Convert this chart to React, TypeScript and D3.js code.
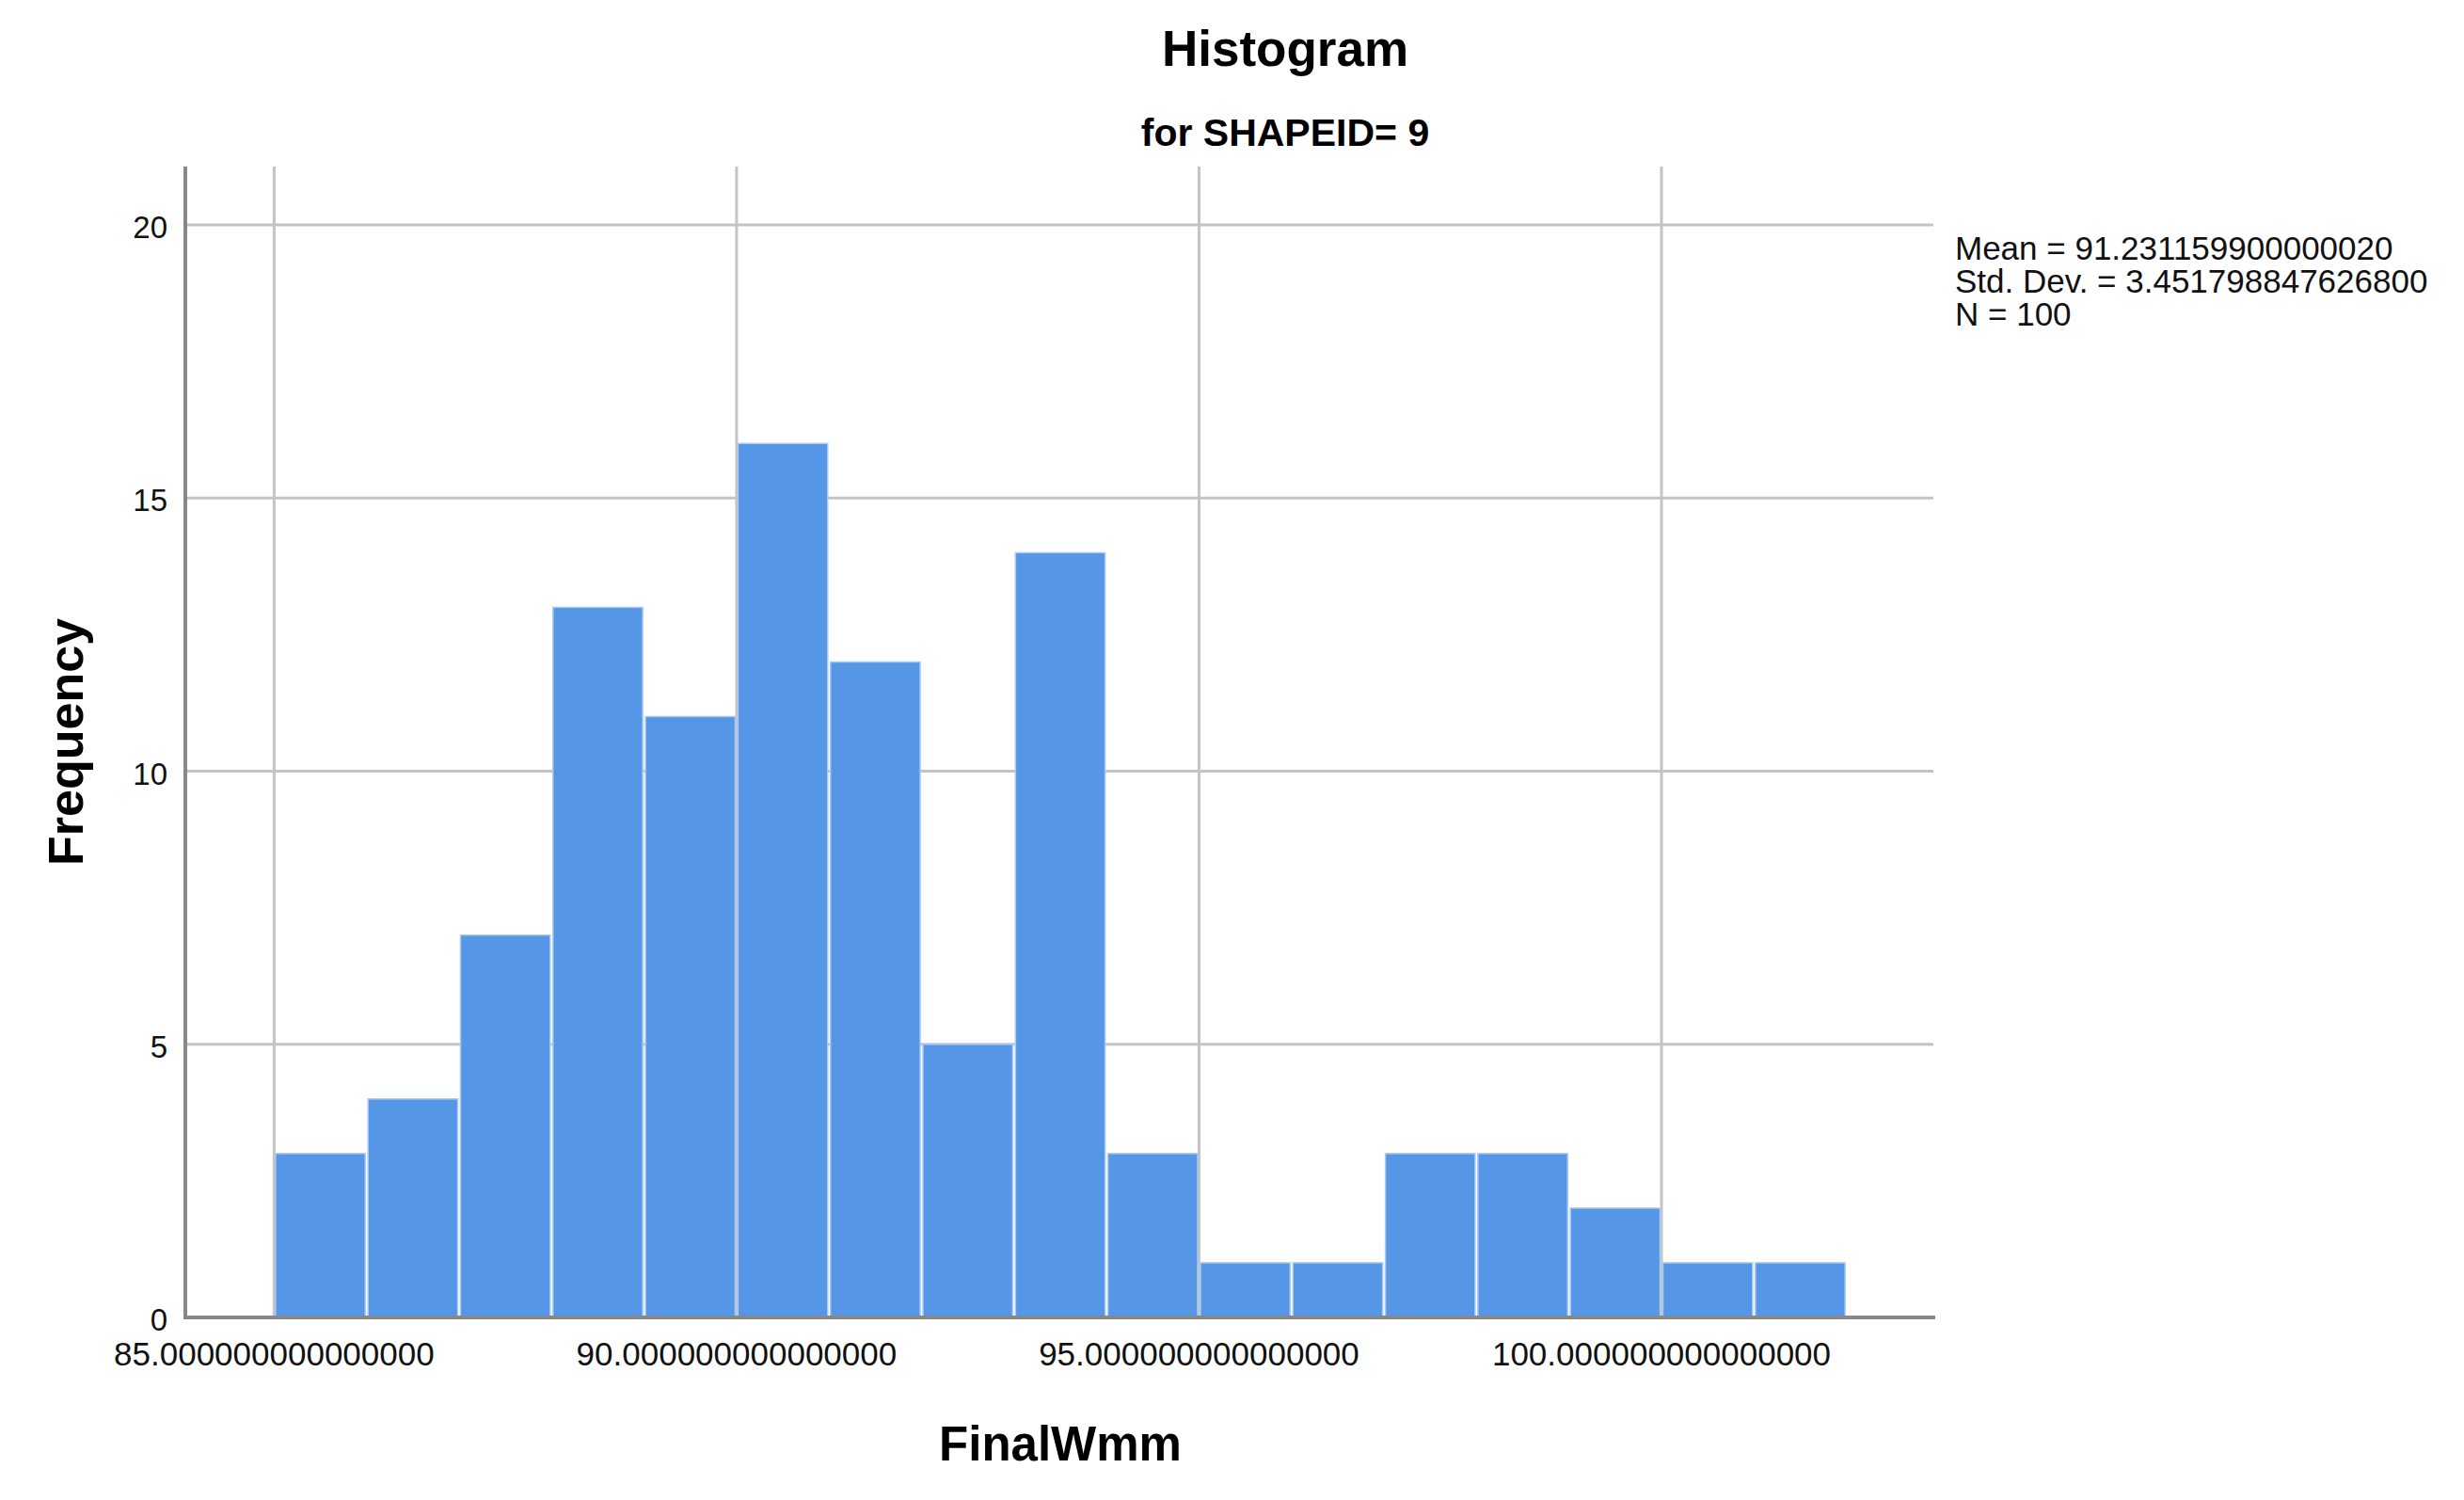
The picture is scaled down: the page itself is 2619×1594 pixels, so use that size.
import React, { useEffect, useRef } from "react";
import * as d3 from "d3";

// histogram of FinalWmm, SHAPEID = 9
const binEdges = [85, 86, 87, 88, 89, 90, 91, 92, 93, 94, 95, 96, 97, 98, 99, 100, 101, 102];
const counts = [3, 4, 7, 13, 11, 16, 12, 5, 14, 3, 1, 1, 3, 3, 2, 1, 1];
const xTicks = [85, 90, 95, 100];
const xTickLabels = ["85.000000000000000", "90.000000000000000", "95.000000000000000", "100.000000000000000"];
const yTicks = [0, 5, 10, 15, 20];
const statLines = ["Mean = 91.231159900000020", "Std. Dev. = 3.451798847626800", "N = 100"];

const W = 2619;
const H = 1594;
const FONT = "'Liberation Sans', Arial, sans-serif";

const App = () => {
  const svgRef = useRef<SVGSVGElement | null>(null);

  useEffect(() => {
    const svg = d3.select(svgRef.current);
    svg.selectAll("*").remove();

    const left = 197, right = 2057, top = 177, bottom = 1400;

    const x = d3.scaleLinear().domain([84.04, 102.96]).range([left, right]);
    const y = d3.scaleLinear().domain([0, 21.07]).range([bottom, top]);

    svg.append("rect").attr("width", W).attr("height", H).attr("fill", "#fff");

    // grid
    svg.append("g")
      .selectAll("line")
      .data(yTicks.filter(d => d > 0))
      .enter()
      .append("line")
      .attr("x1", left).attr("x2", right - 2)
      .attr("y1", d => y(d)).attr("y2", d => y(d))
      .attr("stroke", "#c4c4c4")
      .attr("stroke-width", 3);

    svg.append("g")
      .selectAll("line")
      .data(xTicks)
      .enter()
      .append("line")
      .attr("x1", d => x(d)).attr("x2", d => x(d))
      .attr("y1", top).attr("y2", bottom)
      .attr("stroke", "#c4c4c4")
      .attr("stroke-width", 3);

    // bars
    const bins = counts.map((c, i) => ({ x0: binEdges[i], x1: binEdges[i + 1], c }));
    svg.append("g")
      .selectAll("rect")
      .data(bins)
      .enter()
      .append("rect")
      .attr("x", d => x(d.x0) + 1.5)
      .attr("width", d => x(d.x1) - x(d.x0) - 3)
      .attr("y", d => y(d.c))
      .attr("height", d => y(0) - y(d.c))
      .attr("fill", "#5596e6")
      .attr("stroke", "#a8c9f2")
      .attr("stroke-width", 1.5);

    // axes
    svg.append("line")
      .attr("x1", left).attr("x2", left)
      .attr("y1", top).attr("y2", bottom + 2)
      .attr("stroke", "#888")
      .attr("stroke-width", 4);
    svg.append("line")
      .attr("x1", left - 2).attr("x2", right)
      .attr("y1", bottom).attr("y2", bottom)
      .attr("stroke", "#888")
      .attr("stroke-width", 4);

    // tick labels
    svg.append("g")
      .selectAll("text")
      .data(yTicks)
      .enter()
      .append("text")
      .attr("x", 178)
      .attr("y", d => y(d) + 14)
      .attr("text-anchor", "end")
      .style("font-family", FONT)
      .style("font-size", "33px")
      .style("fill", "#111")
      .text(d => d);

    svg.append("g")
      .selectAll("text")
      .data(xTicks)
      .enter()
      .append("text")
      .attr("x", d => x(d))
      .attr("y", 1451)
      .attr("text-anchor", "middle")
      .style("font-family", FONT)
      .style("font-size", "35px")
      .style("fill", "#111")
      .text((d, i) => xTickLabels[i]);

    // titles
    svg.append("text")
      .attr("x", 1366).attr("y", 70)
      .attr("text-anchor", "middle")
      .style("font-family", FONT)
      .style("font-weight", "bold")
      .style("font-size", "53px")
      .text("Histogram");

    svg.append("text")
      .attr("x", 1366).attr("y", 155)
      .attr("text-anchor", "middle")
      .style("font-family", FONT)
      .style("font-weight", "bold")
      .style("font-size", "41px")
      .text("for SHAPEID= 9");

    svg.append("text")
      .attr("x", (left + right) / 2).attr("y", 1552)
      .attr("text-anchor", "middle")
      .style("font-family", FONT)
      .style("font-weight", "bold")
      .style("font-size", "51px")
      .text("FinalWmm");

    svg.append("text")
      .attr("transform", `translate(88, ${(top + bottom) / 2}) rotate(-90)`)
      .attr("text-anchor", "middle")
      .style("font-family", FONT)
      .style("font-weight", "bold")
      .style("font-size", "52px")
      .text("Frequency");

    // stats box
    svg.append("g")
      .selectAll("text")
      .data(statLines)
      .enter()
      .append("text")
      .attr("x", 2078)
      .attr("y", (d, i) => 276 + i * 35)
      .style("font-family", FONT)
      .style("font-size", "35px")
      .style("fill", "#111")
      .text(d => d);
  }, []);

  return (
    <svg
      ref={svgRef}
      width={W}
      height={H}
      viewBox={`0 0 ${W} ${H}`}
      style={{ position: "absolute", left: 0, top: 0, display: "block" }}
    />
  );
};

export default App;
